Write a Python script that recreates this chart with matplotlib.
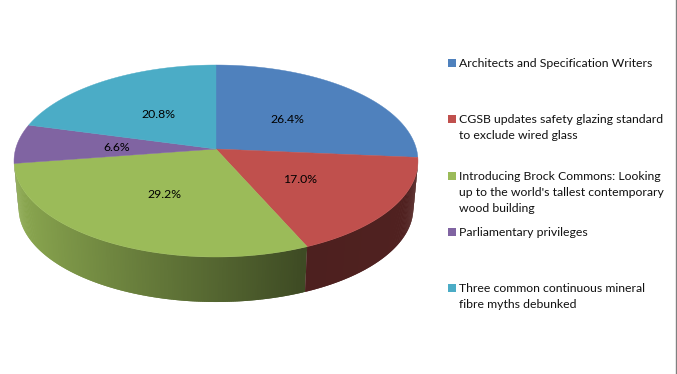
import numpy as np
import matplotlib
matplotlib.use("Agg")
import matplotlib.pyplot as plt
from matplotlib.collections import PolyCollection
from matplotlib.colors import to_rgb

plt.rcParams['font.family'] = ['Lato', 'DejaVu Sans']

# slices, clockwise from 12 o'clock
values = [26.4, 17.0, 29.2, 6.6, 20.8]
colors = ['#4F81BD', '#C0504D', '#9BBB59', '#8064A2', '#4BACC6']
legend_lines = [
    ["Architects and Specification Writers"],
    ["CGSB updates safety glazing standard", "to exclude wired glass"],
    ["Introducing Brock Commons: Looking", "up to the world's tallest contemporary", "wood building"],
    ["Parliamentary privileges"],
    ["Three common continuous mineral", "fibre myths debunked"],
]

# pie geometry in pixels, with a small perspective
cx, cy = 216, 149
a, b, p = 200.4, 94.5, 0.125
depth, base_scale = 47.5, 0.977


def project(theta, r=1.0, scale=1.0, dy=0.0):
    u = r * np.sin(theta)
    v = r * np.cos(theta)
    w = 1 + p * v
    return np.column_stack([cx + scale * a * u / w, cy + dy - scale * b * v / w])


def side_shade(theta):
    # lighter on the left, dark from the front round to the right
    return np.interp(np.sin(theta), [-1, 0.4, 1], [0.92, 0.40, 0.42])


fig = plt.figure(figsize=(6.77, 3.74), dpi=100)
ax = fig.add_axes([0, 0, 1, 1])
ax.set_xlim(0, 677)
ax.set_ylim(374, 0)
ax.axis("off")

edges = np.radians(np.concatenate([[0], np.cumsum(values)]) * 360 / sum(values))

# side wall, only the part that faces the viewer
vis_lo = np.arccos(-p)
vis_hi = 2 * np.pi - vis_lo
step = np.radians(0.5)
strips, strip_colors = [], []
for start, stop, col in zip(edges[:-1], edges[1:], colors):
    lo, hi = max(start, vis_lo), min(stop, vis_hi)
    if hi <= lo:
        continue
    steps = np.arange(lo, hi, step)
    for t0 in steps:
        # overlap the next strip a little so no seams show
        pair = np.array([t0, min(t0 + 2 * step, hi)])
        top = project(pair)
        bottom = project(pair, scale=base_scale, dy=depth)
        strips.append(np.vstack([top, bottom[::-1]]))
        strip_colors.append(tuple(np.array(to_rgb(col)) * side_shade(t0)))
ax.add_collection(PolyCollection(strips[::-1], facecolors=strip_colors[::-1], edgecolors="none"))

# top face
for start, stop, col in zip(edges[:-1], edges[1:], colors):
    arc = project(np.linspace(start, stop, 200))
    pts = np.vstack([[cx, cy], arc])
    ax.fill(pts[:, 0], pts[:, 1], color=col, lw=0.3, zorder=3)

# data labels
for start, stop, val in zip(edges[:-1], edges[1:], values):
    x, y = project(np.array([(start + stop) / 2]), r=0.5)[0]
    ax.text(x, y + 1.5, f"{val:.1f}%", ha="center", va="center", fontsize=8.8, color="black", zorder=4)

# legend
square_y = [62.5, 119, 175.5, 232, 288]
line_step = 16.3
for lines, col, y0 in zip(legend_lines, colors, square_y):
    ax.fill([448, 456, 456, 448], [y0 - 4, y0 - 4, y0 + 4, y0 + 4], color=col, lw=0)
    for i, line in enumerate(lines):
        ax.text(459, y0 + 0.5 + i * line_step, line, ha="left", va="center", fontsize=8.8, color="#111111")

# grey edge down the right of the screenshot
ax.axvline(676, color="#808080", lw=1.0)

fig.savefig("out.png", dpi=100, facecolor="white")
